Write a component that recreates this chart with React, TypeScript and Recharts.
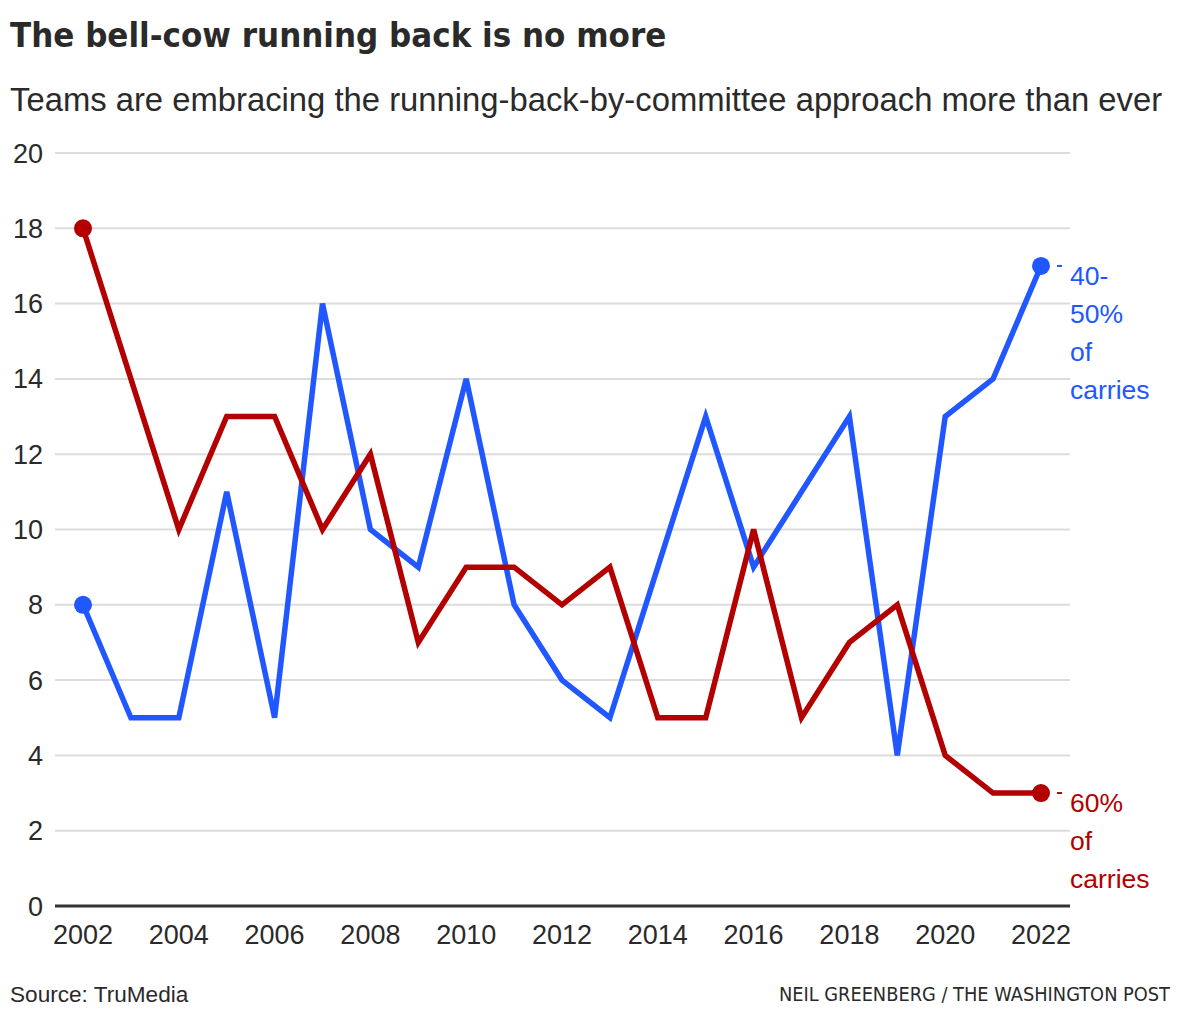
import { LineChart, Line, XAxis, YAxis, CartesianGrid } from "recharts";

const years = [2002, 2003, 2004, 2005, 2006, 2007, 2008, 2009, 2010, 2011, 2012, 2013, 2014, 2015, 2016, 2017, 2018, 2019, 2020, 2021, 2022];
// teams with a back getting 40-50% of carries
const committee = [8, 5, 5, 11, 5, 16, 10, 9, 14, 8, 6, 5, 9, 13, 9, 11, 13, 4, 13, 14, 17];
// teams with a back getting 60% of carries
const bellCow = [18, 14, 10, 13, 13, 10, 12, 7, 9, 9, 8, 9, 5, 5, 10, 5, 7, 8, 4, 3, 3];

const xTicks = [2002, 2004, 2006, 2008, 2010, 2012, 2014, 2016, 2018, 2020, 2022];
const yTicks = [0, 2, 4, 6, 8, 10, 12, 14, 16, 18, 20];
const committeeLabel = ["40-", "50%", "of", "carries"];
const bellCowLabel = ["60%", "of", "carries"];

const BLUE = "#2157ff";
const RED = "#b30000";
const TEXT = "#2a2a2a";
const FONT = "'Liberation Sans', Arial, sans-serif";
const NARROW = "'Liberation Sans Narrow', 'DejaVu Sans Condensed', sans-serif";

const data = years.map((year, i) => ({ year, committee: committee[i], bellCow: bellCow[i] }));
const last = years.length - 1;

function endDot(color: string, label: string[]) {
  return (props: any) => {
    const { cx, cy, index } = props;
    if (index !== 0 && index !== last) return <g key={index} />;
    return (
      <g key={index}>
        <circle cx={cx} cy={cy} r={9} fill={color} />
        {index === last && (
          <>
            <line x1={cx + 16} x2={cx + 21} y1={cy} y2={cy} stroke={color} strokeWidth={2} />
            <text x={cx + 29} y={cy + 19} fill={color} fontSize={26.5} fontFamily={FONT}>
              {label.map((l, i) => (
                <tspan key={l} x={cx + 29} dy={i === 0 ? 0 : 38}>{l}</tspan>
              ))}
            </text>
          </>
        )}
      </g>
    );
  };
}

export default function App() {
  return (
    <div style={{ position: "absolute", left: 0, top: 0, width: 1180, height: 1020, background: "#fff" }}>
      <LineChart
        width={1180}
        height={1020}
        data={data}
        margin={{ top: 153, right: 110, bottom: 74, left: 5 }}
        style={{ position: "absolute", left: 0, top: 0 }}
      >
        <CartesianGrid vertical={false} stroke="#dcdcdc" strokeWidth={2} />
        <XAxis
          dataKey="year"
          type="number"
          domain={[2002, 2022]}
          ticks={xTicks}
          padding={{ left: 28, right: 29 }}
          height={40}
          tickSize={0}
          tickMargin={19}
          tickLine={false}
          axisLine={{ stroke: "#333", strokeWidth: 3 }}
          tick={{ fill: TEXT, fontSize: 27, fontFamily: FONT }}
        />
        <YAxis
          domain={[0, 20]}
          ticks={yTicks}
          width={50}
          tickSize={0}
          tickMargin={12}
          tickLine={false}
          axisLine={false}
          tick={{ fill: TEXT, fontSize: 27, fontFamily: FONT }}
        />
        <Line dataKey="committee" stroke={BLUE} strokeWidth={5.5} dot={endDot(BLUE, committeeLabel)} activeDot={false} isAnimationActive={false} />
        <Line dataKey="bellCow" stroke={RED} strokeWidth={5.5} dot={endDot(RED, bellCowLabel)} activeDot={false} isAnimationActive={false} />
      </LineChart>
      <svg width={1180} height={1020} style={{ position: "absolute", left: 0, top: 0, pointerEvents: "none" }}>
        <text x={10} y={47} fill={TEXT} fontSize={34.5} fontWeight="bold" fontFamily={NARROW}>
          The bell-cow running back is no more
        </text>
        <text x={10} y={111} fill={TEXT} fontSize={32.8} fontFamily={FONT}>
          Teams are embracing the running-back-by-committee approach more than ever
        </text>
        <text x={10} y={1002} fill={TEXT} fontSize={22.6} fontFamily={FONT}>
          Source: TruMedia
        </text>
        <text x={1170} y={1001} fill={TEXT} fontSize={19.8} fontFamily={NARROW} textAnchor="end">
          NEIL GREENBERG / THE WASHINGTON POST
        </text>
      </svg>
    </div>
  );
}
